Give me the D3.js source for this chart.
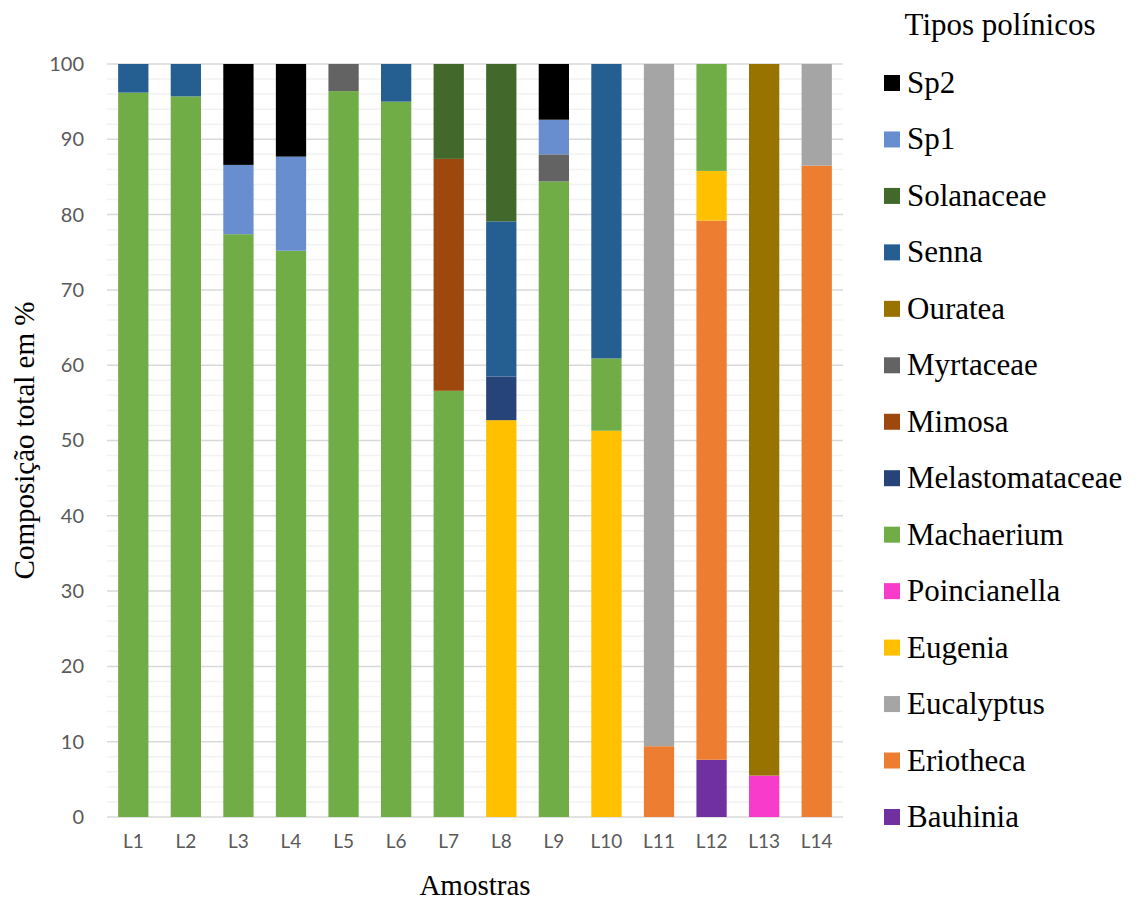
<!DOCTYPE html>
<html>
<head>
<meta charset="utf-8">
<script src="https://cdn.jsdelivr.net/npm/d3@7"></script>
<style>
  html, body { margin: 0; padding: 0; background: #ffffff; }
  svg { display: block; }
</style>
</head>
<body>
<svg id="chart" width="1138" height="905"></svg>
<script>
// Samples (x axis)
const samples = ["L1","L2","L3","L4","L5","L6","L7","L8","L9","L10","L11","L12","L13","L14"];

// Pollen types, bottom of the stack first
const pollenTypes = ["Bauhinia","Eriotheca","Eucalyptus","Eugenia","Poincianella","Machaerium",
  "Melastomataceae","Mimosa","Myrtaceae","Ouratea","Senna","Solanaceae","Sp1","Sp2"];

const typeColors = ["#7030A0","#ED7D31","#A5A5A5","#FFC000","#F93BCB","#70AD47",
  "#264478","#9E480E","#636363","#997300","#255E91","#43682B","#698ED0","#000000"];

// Percentage of each pollen type per sample (L1 … L14)
const bauhinia        = [0,0,0,0,0,0,0,0,0,0,0,7.6,0,0];
const eriotheca       = [0,0,0,0,0,0,0,0,0,0,9.4,71.6,0,86.5];
const eucalyptus      = [0,0,0,0,0,0,0,0,0,0,90.6,0,0,13.5];
const eugenia         = [0,0,0,0,0,0,0,52.7,0,51.3,0,6.6,0,0];
const poincianella    = [0,0,0,0,0,0,0,0,0,0,0,0,5.5,0];
const machaerium      = [96.2,95.7,77.4,75.2,96.4,95.0,56.6,0,84.4,9.6,0,14.2,0,0];
const melastomataceae = [0,0,0,0,0,0,0,5.8,0,0,0,0,0,0];
const mimosa          = [0,0,0,0,0,0,30.8,0,0,0,0,0,0,0];
const myrtaceae       = [0,0,0,0,3.6,0,0,0,3.6,0,0,0,0,0];
const ouratea         = [0,0,0,0,0,0,0,0,0,0,0,0,94.5,0];
const senna           = [3.8,4.3,0,0,0,5.0,0,20.6,0,39.1,0,0,0,0];
const solanaceae      = [0,0,0,0,0,0,12.6,20.9,0,0,0,0,0,0];
const sp1             = [0,0,9.2,12.5,0,0,0,0,4.6,0,0,0,0,0];
const sp2             = [0,0,13.4,12.3,0,0,0,0,7.4,0,0,0,0,0];

const seriesValues = [bauhinia, eriotheca, eucalyptus, eugenia, poincianella, machaerium,
  melastomataceae, mimosa, myrtaceae, ouratea, senna, solanaceae, sp1, sp2];

const yTicks = [0,10,20,30,40,50,60,70,80,90,100];

// Build row table for d3.stack
const rows = samples.map((s, i) => {
  const r = { sample: s };
  pollenTypes.forEach((t, k) => { r[t] = seriesValues[k][i]; });
  return r;
});

const svg = d3.select("#chart");
const plot = { left: 107, right: 843, top: 64, bottom: 817 };

const x = d3.scaleBand().domain(samples).range([plot.left, plot.right]).paddingInner(0.424).paddingOuter(0.212);
const y = d3.scaleLinear().domain([0, 100]).range([plot.bottom, plot.top]);
const color = d3.scaleOrdinal().domain(pollenTypes).range(typeColors);

// Minor gridlines every 2 %
svg.append("g").selectAll("line")
  .data(d3.range(0, 101, 2).filter(v => v % 10 !== 0))
  .join("line")
  .attr("x1", plot.left).attr("x2", plot.right)
  .attr("y1", d => y(d)).attr("y2", d => y(d))
  .attr("stroke", "#F2F2F2").attr("stroke-width", 1.5);

// Major gridlines
svg.append("g").selectAll("line")
  .data(yTicks)
  .join("line")
  .attr("x1", plot.left).attr("x2", plot.right)
  .attr("y1", d => y(d)).attr("y2", d => y(d))
  .attr("stroke", "#D9D9D9").attr("stroke-width", 1.5);

// Stacked bars
const stacked = d3.stack().keys(pollenTypes)(rows);
svg.append("g").selectAll("g")
  .data(stacked)
  .join("g")
  .attr("fill", d => color(d.key))
  .selectAll("rect")
  .data(d => d.filter(p => p[1] - p[0] > 0))
  .join("rect")
  .attr("x", d => x(d.data.sample))
  .attr("width", x.bandwidth())
  .attr("y", d => y(d[1]))
  .attr("height", d => y(d[0]) - y(d[1]));

// Y axis labels
const yAxis = d3.axisLeft(y).tickValues(yTicks).tickSize(0).tickPadding(0);
const gy = svg.append("g").attr("transform", `translate(84,0)`).call(yAxis);
gy.select(".domain").remove();
gy.selectAll("text")
  .attr("font-family", "Lato, 'Open Sans', sans-serif")
  .attr("font-size", 20)
  .attr("fill", "#595959");

// X axis labels
const xAxis = d3.axisBottom(x).tickSize(0).tickPadding(0);
const gx = svg.append("g").attr("transform", `translate(0,834)`).call(xAxis);
gx.select(".domain").remove();
gx.selectAll("text")
  .attr("font-family", "Lato, 'Open Sans', sans-serif")
  .attr("font-size", 19)
  .attr("fill", "#595959");

const serif = "'Liberation Serif', 'Times New Roman', serif";

// Axis titles
svg.append("text")
  .attr("x", (plot.left + plot.right) / 2).attr("y", 895)
  .attr("text-anchor", "middle")
  .attr("font-family", serif).attr("font-size", 29).attr("fill", "#000")
  .text("Amostras");

svg.append("text")
  .attr("transform", `translate(34,${(plot.top + plot.bottom) / 2}) rotate(-90)`)
  .attr("text-anchor", "middle")
  .attr("font-family", serif).attr("font-size", 29).attr("fill", "#000")
  .text("Composição total em %");

// Legend
svg.append("text")
  .attr("x", 1000).attr("y", 35)
  .attr("text-anchor", "middle")
  .attr("font-family", serif).attr("font-size", 31).attr("fill", "#000")
  .text("Tipos polínicos");

const legendOrder = pollenTypes.slice().reverse();
const legend = svg.append("g").selectAll("g")
  .data(legendOrder)
  .join("g")
  .attr("transform", (d, i) => `translate(884,${83 + i * 56.46})`);

legend.append("rect")
  .attr("x", 0).attr("y", -8).attr("width", 16).attr("height", 16)
  .attr("fill", d => color(d));

legend.append("text")
  .attr("x", 23).attr("y", 10)
  .attr("font-family", serif).attr("font-size", 31).attr("fill", "#000")
  .text(d => d);
</script>
</body>
</html>
